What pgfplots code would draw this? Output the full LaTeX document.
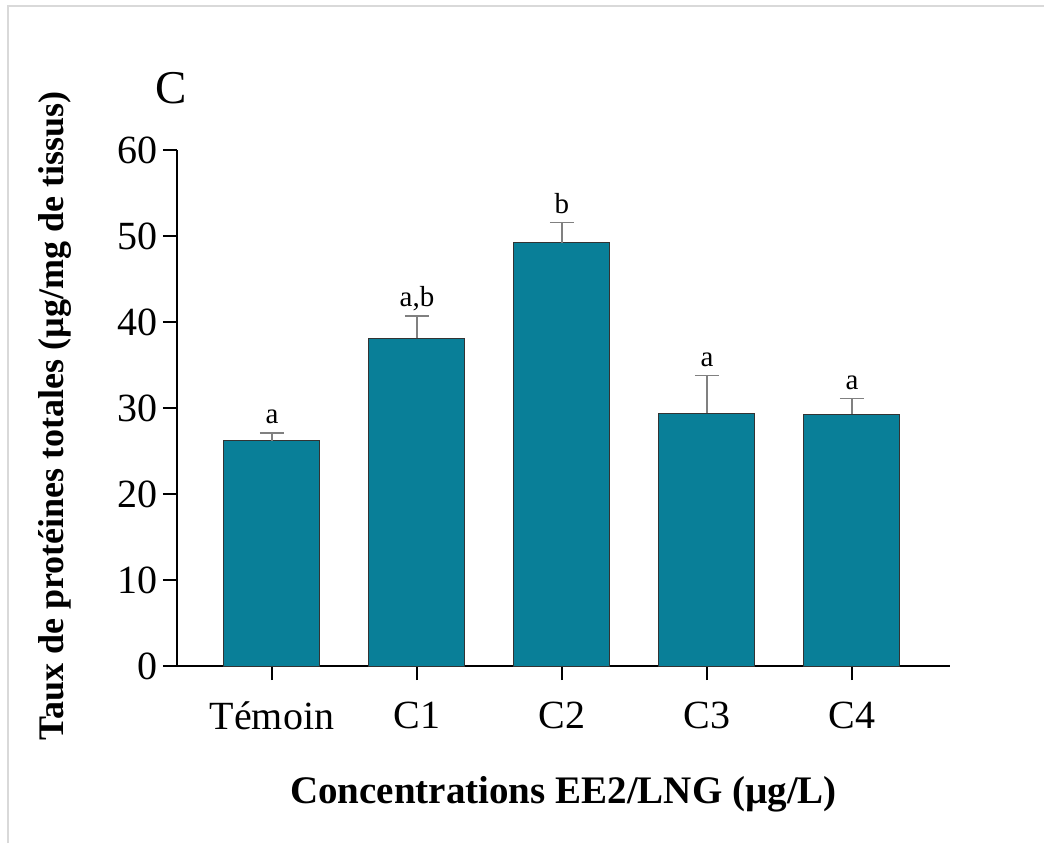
\documentclass[border=0pt]{standalone}
\usepackage{fontspec}
\setmainfont{Liberation Serif}
\usepackage{pgfplots}
\usepackage{pgfplotstable}
\pgfplotsset{compat=1.18}
\definecolor{barteal}{RGB}{9,127,152}
\definecolor{framegray}{RGB}{217,217,217}

\pgfplotstableread{
x y err lab
0 26.2 0.9 a
1 38.1 2.6 {a,b}
2 49.2 2.4 b
3 29.4 4.4 a
4 29.3 1.8 a
}\proteines

\begin{document}
\begin{tikzpicture}
% page = 1044x843 px at 0.5pt per px
\useasboundingbox (0,0) rectangle (522pt,421.5pt);
\draw[framegray, line width=1pt] (4pt,0) -- (4pt,418.5pt) -- (522pt,418.5pt);
\node[font=\fontsize{23.5}{26}\selectfont] at (85.5pt,377.5pt) {C};
\begin{axis}[
    at={(88.5pt,88.5pt)}, anchor=south west,
    scale only axis,
    width=386.5pt, height=258pt,
    xmin=-0.655, xmax=4.676,
    ymin=0, ymax=60,
    axis lines=left,
    axis line style={line width=1pt, -},
    xtick={0,1,2,3,4},
    xticklabels={Témoin, C1, C2, C3, C4},
    ytick={0,10,...,60},
    tick align=outside,
    major tick length=7pt,
    major tick style={line width=1pt, black},
    minor tick num=0,
    /pgf/number format/assume math mode=true,
    tick label style={font=\fontsize{20}{22}\selectfont},
    yticklabel style={xshift=1pt},
    xticklabel style={yshift=-7.5pt},
    xlabel={\textbf{Concentrations EE2/LNG (µg/L)}},
    ylabel={\textbf{Taux de protéines totales (µg/mg de tissus)}},
    xlabel style={font=\fontsize{19.5}{22}\selectfont, at={(axis description cs:0.5,-0.266)}, anchor=base},
    ylabel style={font=\fontsize{18}{20}\selectfont, at={(axis description cs:-0.158,0.484)}, anchor=center, rotate=0},
    clip=false,
]
\addplot[ybar, bar width=48pt, fill=barteal, draw=black!80, line width=0.5pt,
    error bars/.cd, y dir=plus, y explicit,
    error bar style={line width=0.6pt, gray},
    error mark options={rotate=90, mark size=6pt, line width=0.6pt, gray}]
    table[x=x, y=y, y error=err] {\proteines};
\addplot[draw=none, mark=none, nodes near coords, point meta=explicit symbolic,
    nodes near coords style={anchor=base, yshift=4.5pt, font=\fontsize{14.5}{16}\selectfont, black}]
    table[x=x, y expr=\thisrow{y}+\thisrow{err}, meta=lab] {\proteines};
\end{axis}
\end{tikzpicture}
\end{document}
